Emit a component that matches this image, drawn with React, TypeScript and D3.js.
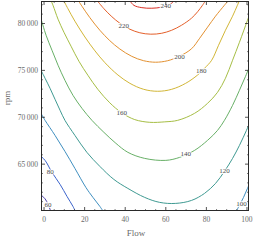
import React from 'react';
import * as d3 from 'd3';

type P = [number, number];

const levels = [60, 80, 100, 120, 140, 160, 180, 200, 220, 240];
const levelColors = ['#4a3da8', '#3c64cc', '#3f8fc0', '#3f9a92', '#68b067', '#a6be45', '#d2b636', '#e39131', '#e45f2a', '#d93025'];

// contour lines: [Flow, rpm]
const contour60: P[] = [[-2, 61800], [0.5, 61300], [2, 60700], [3.5, 59850]];
const contour80: P[] = [[-2, 65930], [0.5, 65400], [3.9, 64120], [7.9, 62840], [11.3, 61560], [14.25, 60490], [15.7, 59850]];
const contour100Left: P[] = [[-1.5, 70420], [0.5, 69670], [5.4, 68070], [10.3, 66360], [15.2, 64550], [20.6, 62520], [24.1, 61450], [27.5, 60490], [29.5, 59850]];
const contour100Right: P[] = [[94.3, 59850], [96.3, 60590], [98.3, 61450], [100.25, 62410], [102.2, 63370]];
const contour120: P[] = [[-1.5, 75010], [0.5, 74160], [2.95, 73090], [5.4, 71920], [7.9, 70740], [10.3, 69670], [15.2, 68070], [21.1, 66260], [27.5, 64760], [34.4, 63370], [41.3, 62410], [49.6, 61450], [57.0, 60920], [64.9, 60810], [72.7, 61130], [79.1, 61880], [84.5, 62940], [88.9, 64230], [92.9, 65610], [96.3, 67000], [99.75, 68600], [102.2, 69780]];
const contour140: P[] = [[-1.5, 80500], [1.0, 78750], [3.9, 77150], [6.9, 75550], [10.3, 73940], [14.25, 72340], [18.7, 70950], [23.6, 69670], [29.5, 68390], [35.4, 67220], [41.3, 66260], [49.6, 65610], [60.0, 65400], [66.8, 65720], [74.2, 66470], [80.6, 67540], [85.5, 68600], [88.9, 69670], [92.9, 71270], [96.3, 72880], [99.3, 74370], [102.2, 75870]];
const contour160: P[] = [[2.95, 82700], [4.4, 81950], [6.9, 80460], [9.8, 79070], [13.3, 77580], [17.2, 75970], [21.6, 74480], [26.5, 72980], [32.4, 71540], [38.3, 70470], [44.7, 69750], [52.1, 69460], [59.5, 69510], [65.85, 69670], [74.2, 70420], [80.6, 71490], [85.5, 72660], [89.4, 74160], [92.9, 76080], [96.3, 78000], [100.25, 80350], [102.2, 81530]];
const contour180: P[] = [[9.3, 82600], [11.8, 81570], [15.2, 80250], [20.15, 78560], [25.1, 77080], [30.0, 75820], [36.4, 74510], [42.3, 73620], [49.1, 72980], [56.0, 72770], [62.9, 72980], [69.8, 73620], [75.7, 74510], [79.1, 75230], [82.6, 76080], [86.0, 77680], [89.4, 79280], [92.9, 80780], [95.3, 81950], [96.8, 82700]];
const contour200: P[] = [[16.2, 82670], [18.7, 81840], [22.6, 80620], [27.5, 79280], [32.4, 78170], [37.35, 77280], [43.2, 76500], [49.1, 76030], [55.0, 75870], [60.9, 76030], [66.8, 76510], [72.7, 77310], [76.7, 78430], [80.6, 79610], [84.5, 80780], [88.9, 81950], [91.4, 82600]];
const contour220: P[] = [[26.0, 82490], [29.5, 81580], [33.4, 80730], [37.35, 80030], [42.3, 79390], [47.2, 79010], [52.6, 78860], [58.0, 78960], [62.9, 79280], [67.8, 79820], [72.7, 80570], [75.7, 81260], [78.1, 81950], [80.1, 82600]];
const contour240: P[] = [[41.8, 82600], [44.2, 81950], [48.2, 81690], [53.1, 81630], [58.0, 81740], [61.9, 82010], [64.9, 82600]];

const contourPieces: { level: number; pts: P[] }[] = [
  { level: 60, pts: contour60 },
  { level: 80, pts: contour80 },
  { level: 100, pts: contour100Left },
  { level: 100, pts: contour100Right },
  { level: 120, pts: contour120 },
  { level: 140, pts: contour140 },
  { level: 160, pts: contour160 },
  { level: 180, pts: contour180 },
  { level: 200, pts: contour200 },
  { level: 220, pts: contour220 },
  { level: 240, pts: contour240 },
];

// contour label anchors (same order as levels)
const labelFlow = [2.0, 3.0, 97.3, 88.9, 69.8, 38.3, 77.5, 66.8, 39.3, 60.0];
const labelRpm = [60600, 64120, 60700, 64280, 66040, 70450, 74900, 76450, 79750, 81850];

const xTicks = [0, 20, 40, 60, 80, 100];
const yTicks = [65000, 70000, 75000, 80000];
const xMinorStep = 5;
const yMinorStep = 1000;

const W = 255;
const H = 241;

export default function App() {
  const x = d3.scaleLinear().domain([-1.5, 101]).range([41, 249]);
  const y = d3.scaleLinear().domain([60000, 82400]).range([211, 1]);
  const line = d3
    .line<P>()
    .x((d) => x(d[0]))
    .y((d) => y(d[1]))
    .curve(d3.curveCatmullRom.alpha(0.5));

  const [x0, x1] = x.range();
  const [y0, y1] = y.range();
  const xMinor = d3.range(0, 100.01, xMinorStep).filter((v) => !xTicks.includes(v));
  const yMinor = d3.range(61000, 82001, yMinorStep).filter((v) => !yTicks.includes(v));
  const colorOf = (lv: number) => levelColors[levels.indexOf(lv)];
  const fmt = (v: number) => {
    const s = String(v);
    return s.slice(0, s.length - 3) + '\u2009' + s.slice(s.length - 3);
  };
  const font = "'Liberation Serif', 'DejaVu Serif', serif";
  const textColor = '#6a6a6a';
  const frameColor = '#2a2a2a';

  return (
    <svg width={W} height={H} style={{ position: 'absolute', left: 0, top: 0, display: 'block', background: '#fff' }}>
      <defs>
        <clipPath id="plotClip">
          <rect x={x0} y={y1} width={x1 - x0} height={y0 - y1} />
        </clipPath>
      </defs>
      <g clipPath="url(#plotClip)">
        {contourPieces.map((c, i) => (
          <path key={i} d={line(c.pts) || ''} fill="none" stroke={colorOf(c.level)} strokeWidth={1} />
        ))}
        {levels.map((lv, i) => (
          <text
            key={'l' + lv}
            x={x(labelFlow[i])}
            y={y(labelRpm[i])}
            fontSize={7}
            fontFamily={font}
            fill="#4a4a4a"
            stroke="#fff"
            strokeWidth={1.6}
            paintOrder="stroke"
            textAnchor="middle"
            dominantBaseline="central"
          >
            {lv}
          </text>
        ))}
      </g>
      {/* frame */}
      <rect x={x0 + 0.5} y={y1 + 0.5} width={x1 - x0 - 1} height={y0 - y1 - 1} fill="none" stroke={frameColor} strokeWidth={1} />
      {/* x ticks bottom & top */}
      {xTicks.map((v) => (
        <g key={'xt' + v}>
          <line x1={x(v)} x2={x(v)} y1={y0} y2={y0 - 4} stroke={frameColor} strokeWidth={0.8} />
          <line x1={x(v)} x2={x(v)} y1={y1} y2={y1 + 4} stroke={frameColor} strokeWidth={0.8} />
          <text x={x(v)} y={222} fontSize={7.5} fontFamily={font} fill={textColor} textAnchor="middle">
            {v}
          </text>
        </g>
      ))}
      {xMinor.map((v) => (
        <g key={'xm' + v}>
          <line x1={x(v)} x2={x(v)} y1={y0} y2={y0 - 2} stroke={frameColor} strokeWidth={0.6} />
          <line x1={x(v)} x2={x(v)} y1={y1} y2={y1 + 2} stroke={frameColor} strokeWidth={0.6} />
        </g>
      ))}
      {/* y ticks left & right */}
      {yTicks.map((v) => (
        <g key={'yt' + v}>
          <line x1={x0} x2={x0 + 4} y1={y(v)} y2={y(v)} stroke={frameColor} strokeWidth={0.8} />
          <line x1={x1} x2={x1 - 4} y1={y(v)} y2={y(v)} stroke={frameColor} strokeWidth={0.8} />
          <text x={38} y={y(v)} dy="0.35em" fontSize={7.5} fontFamily={font} fill={textColor} textAnchor="end">
            {fmt(v)}
          </text>
        </g>
      ))}
      {yMinor.map((v) => (
        <g key={'ym' + v}>
          <line x1={x0} x2={x0 + 2} y1={y(v)} y2={y(v)} stroke={frameColor} strokeWidth={0.6} />
          <line x1={x1} x2={x1 - 2} y1={y(v)} y2={y(v)} stroke={frameColor} strokeWidth={0.6} />
        </g>
      ))}
      <text x={136} y={236} fontSize={9} fontFamily={font} fill={textColor} textAnchor="middle">
        Flow
      </text>
      <text
        transform={`translate(10, 98) rotate(-90)`}
        fontSize={9}
        fontFamily={font}
        fill={textColor}
        textAnchor="middle"
      >
        rpm
      </text>
    </svg>
  );
}
